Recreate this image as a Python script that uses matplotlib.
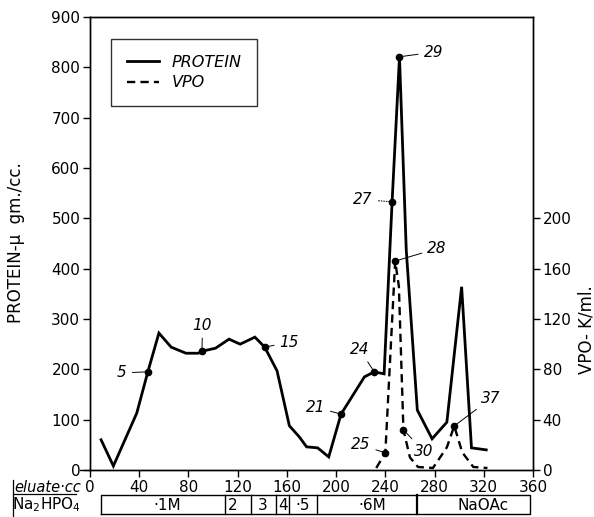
import matplotlib
matplotlib.use("Agg")
import matplotlib.pyplot as plt
import numpy as np

# protein curve (eluate cc, micrograms/cc)
protein_cc = [9, 19, 38, 47, 56, 66, 78, 88, 91, 102, 113, 122, 134, 142, 152, 162, 170, 176,
              185, 194, 204, 223, 231, 239, 245.5, 251.5, 257, 266, 278, 290, 302, 310, 322]
protein = [60, 8, 113, 195, 272, 244, 232, 232, 236, 242, 260, 250, 264, 244, 197, 88, 66, 46,
           44, 26, 111, 185, 195, 191, 533, 821, 437, 119, 62, 95, 364, 44, 40]

# VPO curve (eluate cc, K/ml)
vpo_cc = [232.6, 240, 244, 248, 251, 254.7, 260, 266.5, 278.7, 290, 296, 302.5, 311.5, 323]
vpo = [1.6, 13.6, 90, 166, 146, 32, 10, 2.4, 1.6, 18, 35, 14, 2.4, 1.6]

# numbered fractions: (label, cc, value, label_cc, label_value)
prot_marks = [("5", 47, 195, 26, 193), ("10", 91, 236, 91.4, 288), ("15", 142, 244, 162, 254),
              ("21", 204, 111, 183, 125), ("24", 231, 195, 219, 240),
              ("27", 245.5, 533, 222, 537), ("29", 251.5, 821, 279, 830)]
vpo_marks = [("25", 240, 13.6, 220, 20), ("28", 248, 166, 282, 176),
             ("30", 254.7, 32, 271, 15), ("37", 296, 35, 326, 57)]

# buffer steps below the axis
buffer_edges = [9, 110, 131, 151, 162, 184.5, 266, 357.5]
buffer_labels = ["·1M", "2", "3", "4", "·5", "·6M", "NaOAc"]
buffer_label_x = [62.6, 116, 140, 157, 173, 229, 319.5]

plt.rcParams['font.family'] = ['DejaVu Sans']
plt.rcParams['font.size'] = 11

fig = plt.figure(figsize=(5.94, 5.17), dpi=100)
ax = fig.add_axes([90 / 594, 47 / 517, 443 / 594, 453 / 517])
ax2 = ax.twinx()

ax.plot(protein_cc, protein, color='black', lw=2.0, label='PROTEIN', solid_joinstyle='miter')
ax2.plot(vpo_cc, vpo, color='black', lw=1.7, ls=(0, (3.5, 2.2)), label='VPO')

for lab, x, y, lx, ly in prot_marks:
    ax.plot(x, y, 'o', color='black', ms=4.5)
    ls = ':' if lab == "27" else '-'
    ax.annotate(lab, xy=(x, y), xytext=(lx, ly), ha='center', va='center', style='italic',
                fontsize=11, arrowprops=dict(arrowstyle='-', lw=0.7, ls=ls, shrinkA=2, shrinkB=1))
for lab, x, y, lx, ly in vpo_marks:
    ax2.plot(x, y, 'o', color='black', ms=4.5)
    ax2.annotate(lab, xy=(x, y), xytext=(lx, ly), ha='center', va='center', style='italic',
                 fontsize=11, arrowprops=dict(arrowstyle='-', lw=0.7, shrinkA=2, shrinkB=1))

ax.set_xlim(0, 360)
ax.set_ylim(0, 900)
ax2.set_ylim(0, 360)
ax.set_xticks(np.arange(0, 361, 40))
ax.set_yticks(np.arange(0, 901, 100))
ax2.set_yticks(np.arange(0, 201, 40))
ax.tick_params(direction='out', length=5, width=1, pad=2, labelsize=11)
ax2.tick_params(direction='out', length=5, width=1, pad=2, labelsize=11)
ax.tick_params(axis='x', pad=2)
for a in (ax, ax2):
    for s in a.spines.values():
        s.set_linewidth(1.0)

ax.set_ylabel('PROTEIN-μ  gm./cc.', fontsize=12)
ax.yaxis.set_label_coords(-0.147, 0.503)
ax2.text(1.12, 0.31, 'VPO- K/ml.', transform=ax.transAxes, rotation=90,
         ha='center', va='center', fontsize=12)

h1, l1 = ax.get_legend_handles_labels()
h2, l2 = ax2.get_legend_handles_labels()
leg = ax.legend(h1 + h2, l1 + l2, loc='upper left', bbox_to_anchor=(0.047, 0.952),
                frameon=True, fancybox=False, edgecolor='black', handlelength=2.0,
                borderpad=1.0, labelspacing=0.35, prop={'style': 'italic', 'size': 11.5},
                borderaxespad=0)
leg.get_frame().set_linewidth(1.0)
leg.set_zorder(5)

# eluate label
fig.text(14 / 594, 1 - 487 / 517, 'eluate·cc', style='italic', fontsize=10.5, va='center',
         ha='left')
fig.add_artist(plt.Line2D([13 / 594, 76 / 594], [1 - 494 / 517, 1 - 494 / 517], color='black', lw=0.9))
fig.add_artist(plt.Line2D([13 / 594, 13 / 594], [1 - 480 / 517, 0], color='black', lw=0.9))
fig.add_artist(plt.Line2D([80 / 594, 90 / 594], [47 / 517, 47 / 517], color='black', lw=1.0))

# buffer row
axb = fig.add_axes([90 / 594, 3 / 517, 443 / 594, 19 / 517])
axb.set_xlim(0, 360)
axb.set_ylim(0, 1)
axb.axis('off')
axb.plot([buffer_edges[0], buffer_edges[-1], buffer_edges[-1], buffer_edges[0], buffer_edges[0]],
         [0, 0, 1, 1, 0], color='black', lw=1.0, clip_on=False)
for e in buffer_edges[1:-1]:
    axb.plot([e, e], [0, 1], color='black', lw=1.6 if e == 266 else 1.0, clip_on=False)
for lab, x in zip(buffer_labels, buffer_label_x):
    axb.text(x, 0.45, lab, ha='center', va='center', fontsize=11)
fig.text(12 / 594, 1 - 505 / 517, 'Na$_2$HPO$_4$', fontsize=11, va='center', ha='left')

fig.savefig('out.png', dpi=100)
